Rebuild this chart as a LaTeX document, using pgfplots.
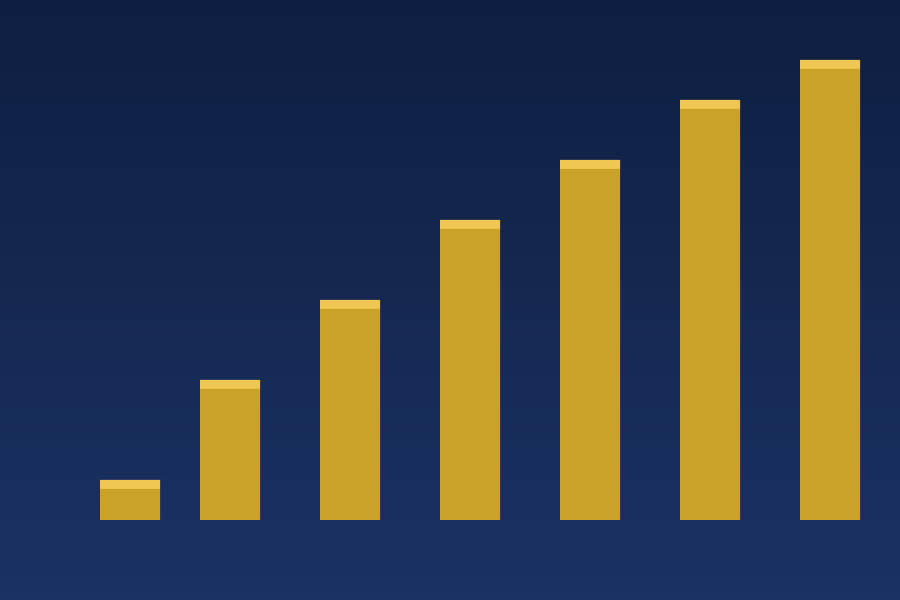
\documentclass[border=0pt]{standalone}
\usepackage{pgfplots}
\pgfplotsset{compat=1.18}
\definecolor{bgtop}{HTML}{0E1E40}
\definecolor{bgbot}{HTML}{1A3264}
\definecolor{barbody}{HTML}{C9A227}
\definecolor{barcap}{HTML}{F0C654}
\begin{document}
\begin{tikzpicture}
  \begin{axis}[
    scale only axis,
    width=900pt, height=600pt,
    xmin=0, xmax=900, ymin=-80, ymax=520,
    axis lines=none, ticks=none,
    axis background/.style={top color=bgtop, bottom color=bgbot},
    ybar stacked, bar width=60,
  ]
    % body of each bar
    \addplot[fill=barbody, draw=none] coordinates {
      (130,31) (230,131) (350,211) (470,291) (590,351) (710,411) (830,451)};
    % lighter cap on top
    \addplot[fill=barcap, draw=none] coordinates {
      (130,9) (230,9) (350,9) (470,9) (590,9) (710,9) (830,9)};
  \end{axis}
\end{tikzpicture}
\end{document}
